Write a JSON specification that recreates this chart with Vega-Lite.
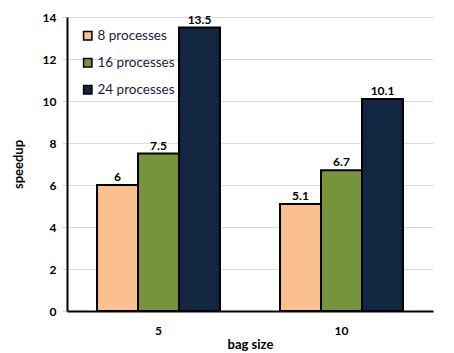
{
  "$schema": "https://vega.github.io/schema/vega-lite/v6.json",
  "width": 366,
  "height": 294,
  "autosize": "none",
  "padding": {"left": 67, "top": 17, "right": 21, "bottom": 42},
  "background": "white",
  "config": {
    "view": {"stroke": null},
    "font": "Lato"
  },
  "data": {
    "values": [
      {"bag": "5", "series": "8 processes", "speedup": 6},
      {"bag": "5", "series": "16 processes", "speedup": 7.5},
      {"bag": "5", "series": "24 processes", "speedup": 13.5},
      {"bag": "10", "series": "8 processes", "speedup": 5.1},
      {"bag": "10", "series": "16 processes", "speedup": 6.7},
      {"bag": "10", "series": "24 processes", "speedup": 10.1}
    ]
  },
  "encoding": {
    "x": {
      "field": "bag", "type": "nominal", "sort": ["5", "10"],
      "scale": {"paddingInner": 0.328, "paddingOuter": 0.164},
      "axis": {
        "title": "bag size", "labelAngle": 0, "domainColor": "black", "domainWidth": 2,
        "ticks": false, "labelPadding": 14, "labelFont": "Lato", "labelFontWeight": "bold",
        "labelFontSize": 12, "labelColor": "black", "titleFont": "Lato", "titleFontWeight": "bold",
        "titleFontSize": 13, "titleColor": "black", "titlePadding": 2
      }
    },
    "xOffset": {"field": "series", "type": "nominal", "sort": ["8 processes", "16 processes", "24 processes"], "scale": {"paddingInner": 0, "paddingOuter": 0}},
    "y": {
      "field": "speedup", "type": "quantitative",
      "scale": {"domain": [0, 14]},
      "axis": {
        "title": "speedup", "values": [0, 2, 4, 6, 8, 10, 12, 14], "domainColor": "black", "domainWidth": 2,
        "gridColor": "#d9d9d9", "tickColor": "#d9d9d9", "tickSize": 5, "labelPadding": 6,
        "labelFont": "Lato", "labelFontWeight": "bold", "labelFontSize": 12, "labelColor": "black",
        "titleFont": "Lato", "titleFontWeight": "bold", "titleFontSize": 13, "titleColor": "black", "titlePadding": 17
      }
    }
  },
  "layer": [
    {
      "mark": {"type": "bar", "stroke": "black", "strokeWidth": 2},
      "encoding": {
        "color": {
          "field": "series", "type": "nominal", "sort": ["8 processes", "16 processes", "24 processes"],
          "scale": {"domain": ["8 processes", "16 processes", "24 processes"], "range": ["#FAC090", "#77933C", "#122541"]},
          "legend": {
            "title": null, "orient": "none", "legendX": 14, "legendY": 12,
            "symbolType": "square", "symbolSize": 70, "symbolStrokeColor": "black", "symbolStrokeWidth": 1.5,
            "labelFont": "Lato", "labelFontSize": 13.5, "labelColor": "#1a1a40", "rowPadding": 12, "labelOffset": 3
          }
        }
      }
    },
    {
      "mark": {"type": "text", "dy": -8, "fontWeight": "bold", "fontSize": 12, "font": "Lato", "color": "black"},
      "encoding": {"text": {"field": "speedup", "type": "quantitative"}}
    }
  ]
}
